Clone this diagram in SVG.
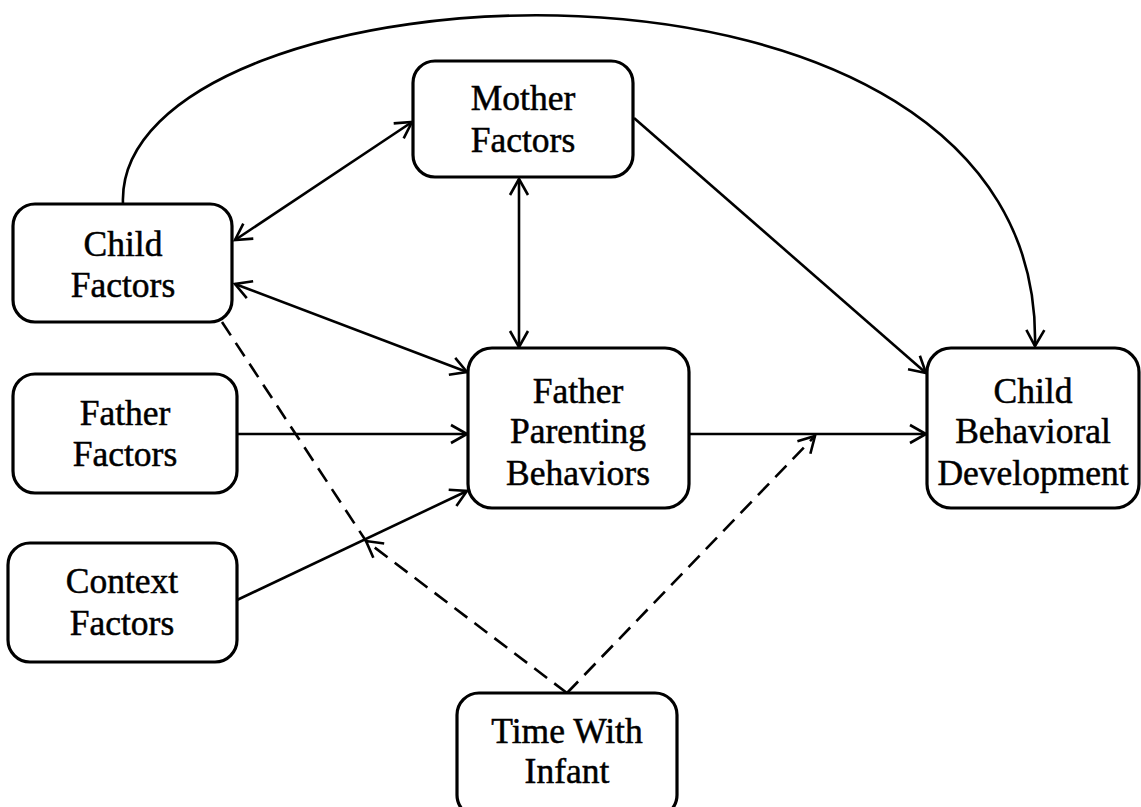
<svg xmlns="http://www.w3.org/2000/svg" width="1141" height="807" viewBox="0 0 1141 807">
<style>
.box{fill:#fff;stroke:#000;stroke-width:3.2}
.lbl{font-family:"Liberation Serif","Times New Roman",serif;font-size:35.5px;fill:#000;stroke:#000;stroke-width:0.5;text-anchor:middle}
.c{fill:none;stroke:#000;stroke-width:2.6}
.d{fill:none;stroke:#000;stroke-width:2.6;stroke-dasharray:16 9}
</style>
<defs>
<marker id="ah" markerUnits="userSpaceOnUse" markerWidth="22" markerHeight="22" viewBox="0 0 22 22" refX="19" refY="11" orient="auto-start-reverse">
<path d="M3,2 L19,11 L3,20" fill="none" stroke="#000" stroke-width="2.6"/>
</marker>
</defs>
<rect width="1141" height="807" fill="#fff"/>
<g id="connectors">
<path class="c" d="M123,204 C112,-40 1045,-100 1035,346" marker-end="url(#ah)"/>
<line class="c" x1="235" y1="240" x2="412" y2="122" marker-start="url(#ah)" marker-end="url(#ah)"/>
<line class="c" x1="235" y1="284" x2="467" y2="372" marker-start="url(#ah)" marker-end="url(#ah)"/>
<line class="c" x1="519" y1="179" x2="519" y2="347" marker-start="url(#ah)" marker-end="url(#ah)"/>
<line class="c" x1="237" y1="434" x2="467" y2="434" marker-end="url(#ah)"/>
<line class="c" x1="237" y1="600" x2="467" y2="491" marker-end="url(#ah)"/>
<line class="c" x1="634" y1="118" x2="926" y2="373" marker-end="url(#ah)"/>
<line class="c" x1="689" y1="434" x2="926" y2="434" marker-end="url(#ah)"/>
<line class="d" x1="567" y1="693" x2="815" y2="436" marker-end="url(#ah)"/>
<line class="d" x1="567" y1="693" x2="366" y2="541" marker-end="url(#ah)"/>
<line class="d" x1="222" y1="322" x2="366" y2="541"/>
</g>
<g id="mother"><rect class="box" x="413" y="61" width="220" height="116" rx="22"/><text class="lbl" x="523" y="110">Mother</text><text class="lbl" x="523" y="152">Factors</text></g>
<g id="child"><rect class="box" x="13" y="204" width="219" height="118" rx="22"/><text class="lbl" x="123" y="256">Child</text><text class="lbl" x="123" y="297">Factors</text></g>
<g id="father"><rect class="box" x="13" y="374" width="224" height="119" rx="22"/><text class="lbl" x="125" y="425">Father</text><text class="lbl" x="125" y="466">Factors</text></g>
<g id="context"><rect class="box" x="8" y="543" width="229" height="119" rx="22"/><text class="lbl" x="122" y="593">Context</text><text class="lbl" x="122" y="635">Factors</text></g>
<g id="fpb"><rect class="box" x="468" y="348" width="221" height="160" rx="24"/><text class="lbl" x="578" y="403">Father</text><text class="lbl" x="578" y="443">Parenting</text><text class="lbl" x="578" y="485">Behaviors</text></g>
<g id="cbd"><rect class="box" x="927" y="348" width="212" height="160" rx="24"/><text class="lbl" x="1033" y="403">Child</text><text class="lbl" x="1033" y="443">Behavioral</text><text class="lbl" x="1033" y="485">Development</text></g>
<g id="time"><rect class="box" x="457" y="693" width="220" height="124" rx="22"/><text class="lbl" x="567" y="743">Time With</text><text class="lbl" x="567" y="783">Infant</text></g>
</svg>
